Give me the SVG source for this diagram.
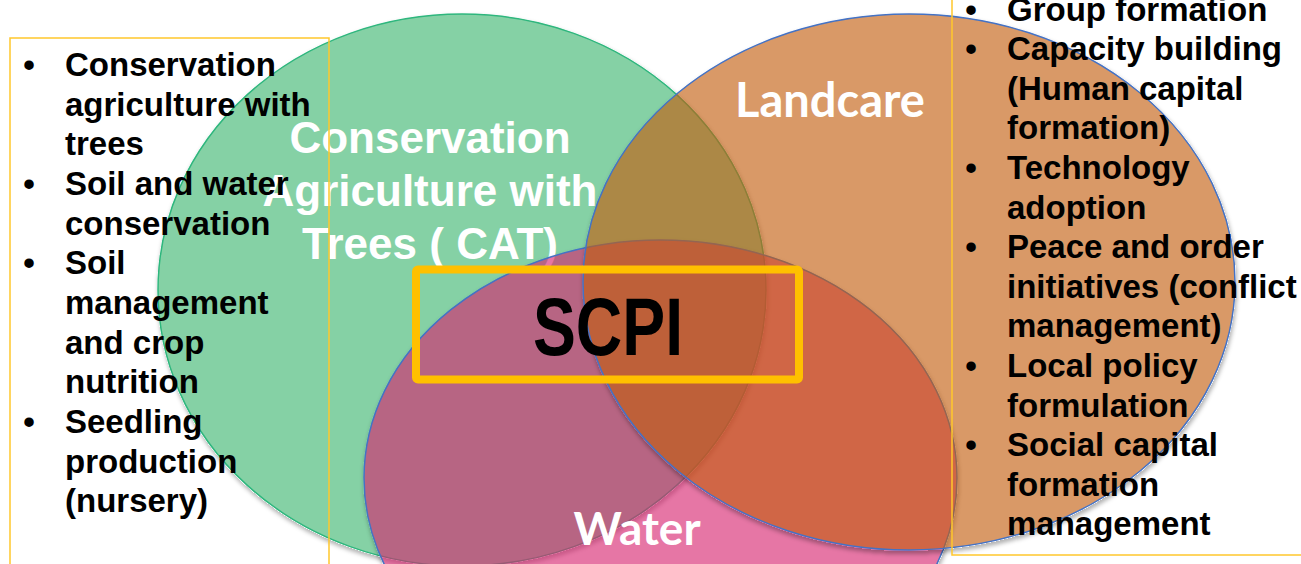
<svg xmlns="http://www.w3.org/2000/svg" width="1301" height="564" viewBox="0 0 1301 564">
  <defs>
    <style>
      .list { font-family: "Liberation Sans", Arial, sans-serif; font-weight: bold; font-size: 33px; fill: #000; }
      .bullet { font-family: "Liberation Sans", Arial, sans-serif; font-weight: bold; font-size: 33px; fill: #000; text-anchor: middle; }
      .label { font-family: "Liberation Sans", Arial, sans-serif; font-weight: bold; font-size: 44px; fill: #fff; text-anchor: middle; }
      .label-soft { font-family: Lato, "Open Sans", sans-serif; font-weight: bold; font-size: 46px; fill: #fff; text-anchor: middle; }
      .frame { fill: none; stroke: #FFC72C; stroke-width: 1.5; }
      .core { fill: none; stroke: #FFC000; stroke-width: 8; stroke-linejoin: round; }
      .core-text { font-family: "Liberation Sans", Arial, sans-serif; font-weight: bold; font-size: 82px; fill: #000; text-anchor: middle; }
    </style>
    <!-- soft drop shadow that only shows outside the shape -->
    <filter id="shadow" x="-10%" y="-10%" width="120%" height="125%" color-interpolation-filters="sRGB">
      <feComponentTransfer in="SourceAlpha" result="solid">
        <feFuncA type="linear" slope="20"/>
      </feComponentTransfer>
      <feGaussianBlur in="solid" stdDeviation="2"/>
      <feOffset dx="1" dy="3" result="blur"/>
      <feFlood flood-color="#000" flood-opacity="0.3"/>
      <feComposite in2="blur" operator="in"/>
      <feComposite in2="solid" operator="out" result="shade"/>
      <feMerge>
        <feMergeNode in="shade"/>
        <feMergeNode in="SourceGraphic"/>
      </feMerge>
    </filter>
  </defs>

  <rect width="1301" height="564" fill="#fff"/>

  <!-- Venn sets -->
  <g id="node-cat">
    <ellipse cx="462" cy="290" rx="304" ry="276" fill="#85D1A5" stroke="#2EB67D" stroke-width="1.5" filter="url(#shadow)"/>
    <text class="label" x="430" y="153">Conservation</text>
    <text class="label" x="430" y="206">Agriculture with</text>
    <text class="label" x="430" y="259">Trees ( CAT)</text>
  </g>

  <g id="node-water">
    <ellipse cx="660.5" cy="478" rx="296.5" ry="238" fill="#D7226E" fill-opacity="0.62" stroke="#4472C4" stroke-width="1.5" filter="url(#shadow)"/>
    <text class="label-soft" x="637" y="545">Water</text>
  </g>

  <g id="node-landcare">
    <ellipse cx="909" cy="282" rx="326" ry="268" fill="#C35D0F" fill-opacity="0.63" stroke="#4472C4" stroke-width="1.5" filter="url(#shadow)"/>
    <text class="label-soft" x="830" y="117" style="font-size:47px">Landcare</text>
  </g>

  <!-- centre label -->
  <g id="node-scpi">
    <rect class="core" x="416" y="269.5" width="383" height="110" rx="2"/>
    <text class="core-text" x="608" y="355" textLength="150" lengthAdjust="spacingAndGlyphs">SCPI</text>
  </g>

  <!-- left list -->
  <g id="node-cat-practices">
    <rect class="frame" x="10" y="38" width="319" height="540"/>
    <text class="bullet" x="29" y="76">•</text>
    <text class="list" x="65" y="76">Conservation</text>
    <text class="list" x="65" y="115.7">agriculture with</text>
    <text class="list" x="65" y="155.3">trees</text>
    <text class="bullet" x="29" y="195">•</text>
    <text class="list" x="65" y="195">Soil and water</text>
    <text class="list" x="65" y="234.6">conservation</text>
    <text class="bullet" x="29" y="274.3">•</text>
    <text class="list" x="65" y="274.3">Soil</text>
    <text class="list" x="65" y="313.9">management</text>
    <text class="list" x="65" y="353.6">and crop</text>
    <text class="list" x="65" y="393.2">nutrition</text>
    <text class="bullet" x="29" y="432.9">•</text>
    <text class="list" x="65" y="432.9">Seedling</text>
    <text class="list" x="65" y="472.5">production</text>
    <text class="list" x="65" y="512.2">(nursery)</text>
  </g>

  <!-- right list -->
  <g id="node-landcare-practices">
    <rect class="frame" x="952" y="-10" width="360" height="565"/>
    <text class="bullet" x="971" y="20.5">•</text>
    <text class="list" x="1007" y="20.5">Group formation</text>
    <text class="bullet" x="971" y="60.1">•</text>
    <text class="list" x="1007" y="60.1">Capacity building</text>
    <text class="list" x="1007" y="99.7">(Human capital</text>
    <text class="list" x="1007" y="139.3">formation)</text>
    <text class="bullet" x="971" y="178.9">•</text>
    <text class="list" x="1007" y="178.9">Technology</text>
    <text class="list" x="1007" y="218.5">adoption</text>
    <text class="bullet" x="971" y="258.1">•</text>
    <text class="list" x="1007" y="258.1">Peace and order</text>
    <text class="list" x="1007" y="297.7">initiatives (conflict</text>
    <text class="list" x="1007" y="337.3">management)</text>
    <text class="bullet" x="971" y="376.9">•</text>
    <text class="list" x="1007" y="376.9">Local policy</text>
    <text class="list" x="1007" y="416.5">formulation</text>
    <text class="bullet" x="971" y="456.1">•</text>
    <text class="list" x="1007" y="456.1">Social capital</text>
    <text class="list" x="1007" y="495.7">formation</text>
    <text class="list" x="1007" y="535.3">management</text>
  </g>

  <!-- no connectors in this figure -->
  <g id="connectors"/>
</svg>
